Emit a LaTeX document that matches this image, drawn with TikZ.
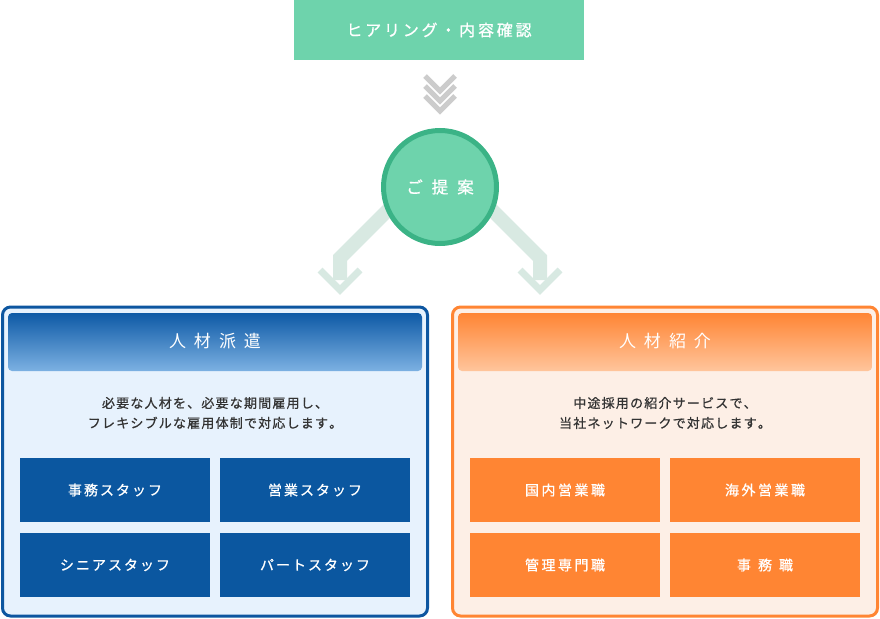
\documentclass[tikz,border=0pt]{standalone}
\usepackage{fontspec}
\newfontfamily\jp{Noto Sans CJK JP}
\newfontfamily\jpm[FakeBold=0.8]{Noto Sans CJK JP}
\usetikzlibrary{shapes.geometric}
\definecolor{topgreen}{HTML}{6ED3AC}
\definecolor{ringgreen}{HTML}{3BB386}
\definecolor{chevgray}{HTML}{CCCCCC}
\definecolor{bandgray}{HTML}{D8E9E2}
\definecolor{bluebd}{HTML}{0D56A0}
\definecolor{bluebtn}{HTML}{0B57A0}
\definecolor{bluefill}{HTML}{E7F2FD}
\definecolor{bluetop}{HTML}{0E5AA6}
\definecolor{bluebot}{HTML}{7CB1E2}
\definecolor{orgbd}{HTML}{FF8533}
\definecolor{orgbtn}{HTML}{FF8533}
\definecolor{orgfill}{HTML}{FDEFE6}
\definecolor{orgtop}{HTML}{FF8534}
\definecolor{orgbot}{HTML}{FFC59C}
\definecolor{txtdark}{HTML}{333333}
% letter-spaced text: \lsp{kern}{text}
\makeatletter
\newcommand\lsp[2]{\def\lsp@k{#1}\lsp@x#2\relax}
\def\lsp@x#1#2{#1\ifx\relax#2\else\kern\lsp@k\relax\expandafter\lsp@x\expandafter#2\fi}
\makeatother
\tikzset{
  btn/.style={minimum width=190pt,minimum height=64pt,inner sep=0pt,text=white,
    font=\jpm\fontsize{14}{16}\selectfont},
  bluebtnst/.style={btn,fill=bluebtn},
  orgbtnst/.style={btn,fill=orgbtn},
  desc/.style={align=center,text=txtdark,font=\jpm\fontsize{13}{20}\selectfont,inner sep=0pt},
  headtxt/.style={text=white,font=\jp\fontsize{17}{20}\selectfont,inner sep=0pt},
  chev/.style={draw=chevgray,line width=5pt,miter limit=10,line join=miter},
  band/.style={draw=bandgray,line width=14pt,line join=miter},
  bigchev/.style={draw=bandgray,line width=7pt,line join=miter},
}
\begin{document}
\begin{tikzpicture}[x=1pt,y=-1pt]
\useasboundingbox (0,0) rectangle (880,618);
% top box
\node[fill=topgreen,minimum width=290pt,minimum height=60pt,inner sep=0pt,text=white,
  font=\jpm\fontsize{16}{18}\selectfont] (hear) at (439,30) {\lsp{2.8pt}{ヒアリング・内容確認}};
% small chevrons
\foreach \k in {0,10,20}
  \draw[chev] (425,76+\k) -- (440,91+\k) -- (455,76+\k);
% arrow bands
\coordinate (lb1) at (390,208);
\coordinate (lb2) at (340,258);
\coordinate (lb3) at (340,280);
\coordinate (rb1) at (490,208);
\coordinate (rb2) at (540,258);
\coordinate (rb3) at (540,280);
\draw[band] (lb1) -- (lb2) -- (lb3);
\draw[band] (rb1) -- (rb2) -- (rb3);
\draw[bigchev] (320,270) -- (340,290) -- (360,270);
\draw[bigchev] (520,270) -- (540,290) -- (560,270);
% circle
\node[circle,draw=ringgreen,line width=5pt,fill=topgreen,minimum size=113pt,inner sep=0pt,
  text=white,font=\jpm\fontsize{16.5}{18}\selectfont] (prop) at (440,187) {\lsp{9pt}{ご提案}};
% left panel
\draw[bluebd,fill=bluefill,line width=3pt,rounded corners=8pt] (2.5,307) rectangle (427.5,616);
\shade[top color=bluetop,bottom color=bluebot,rounded corners=4pt] (8,313) rectangle (422,371);
\node[headtxt] (lhead) at (215,341) {\lsp{8pt}{人材派遣}};
\node[desc] (ldesc) at (215,413) {\lsp{1.2pt}{必要な人材を、必要な期間雇用し、}\\\lsp{1.2pt}{フレキシブルな雇用体制で対応します。}};
\node[bluebtnst] (l1) at (115,490) {\lsp{2pt}{事務スタッフ}};
\node[bluebtnst] (l2) at (315,490) {\lsp{2pt}{営業スタッフ}};
\node[bluebtnst] (l3) at (115,565) {\lsp{2pt}{シニアスタッフ}};
\node[bluebtnst] (l4) at (315,565) {\lsp{2pt}{パートスタッフ}};
% right panel
\draw[orgbd,fill=orgfill,line width=3pt,rounded corners=8pt] (452.5,307) rectangle (877.5,616);
\shade[top color=orgtop,bottom color=orgbot,rounded corners=4pt] (458,313) rectangle (872,371);
\node[headtxt] (rhead) at (665,341) {\lsp{8pt}{人材紹介}};
\node[desc] (rdesc) at (665,413) {\lsp{1.2pt}{中途採用の紹介サービスで、}\\\lsp{1.2pt}{当社ネットワークで対応します。}};
\node[orgbtnst] (r1) at (565,490) {\lsp{2.5pt}{国内営業職}};
\node[orgbtnst] (r2) at (765,490) {\lsp{2.5pt}{海外営業職}};
\node[orgbtnst] (r3) at (565,565) {\lsp{2.5pt}{管理専門職}};
\node[orgbtnst] (r4) at (765,565) {\lsp{7pt}{事務職}};
\end{tikzpicture}
\end{document}
